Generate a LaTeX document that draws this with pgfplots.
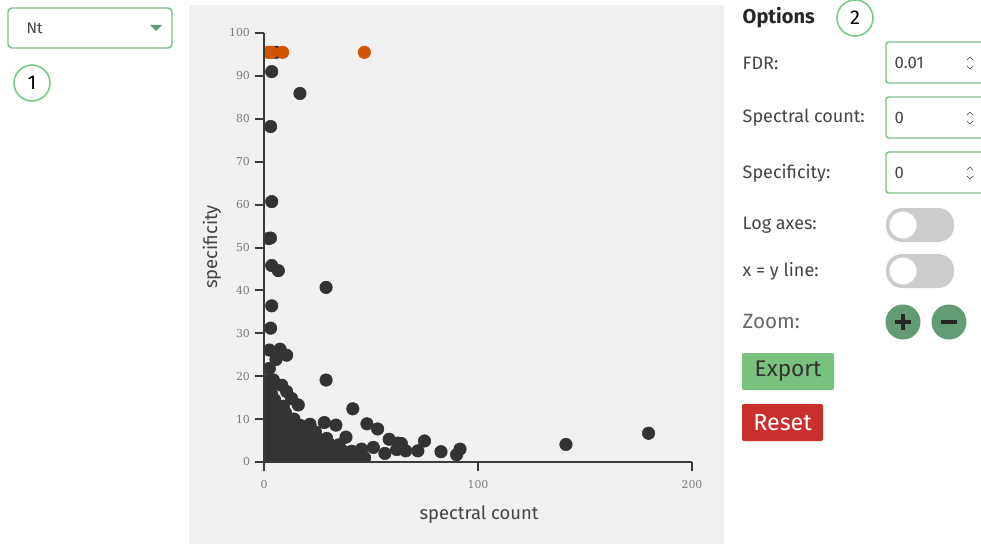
\documentclass[border=0pt]{standalone}
\usepackage{fontspec}
\setmainfont{Fira Sans}
\newfontfamily\tickfont{DejaVu Serif}
\usepackage{pgfplots}
\usepackage{pgfplotstable}
\pgfplotsset{compat=1.18}

\definecolor{panelbg}{HTML}{F1F1F1}
\definecolor{dotdark}{HTML}{333333}
\definecolor{dotorange}{HTML}{D35400}
\definecolor{axisdark}{HTML}{3A3A3A}
\definecolor{tickgray}{HTML}{7A7A7A}
\definecolor{uigreen}{HTML}{7CC98A}
\definecolor{boxgreen}{HTML}{7FBF88}
\definecolor{btngreen}{HTML}{79C17F}
\definecolor{zoomgreen}{HTML}{629B74}
\definecolor{btnred}{HTML}{C9302C}
\definecolor{togglegray}{HTML}{CCCCCC}
\definecolor{labeltext}{HTML}{444444}

% proteins: spectral count vs specificity
\pgfplotstableread{
x y
1 1
4 1
7 1
10 1
13 1
16 1
19 1
22 1
25 1
28 1
31 1
34 1
37 1
40 1
43 1
47 1
1 2.5
4 2.5
7 2.5
10 2.5
13 2.5
16 2.5
19 2.5
22 2.5
25 2.5
28 2.5
31 2.5
34 2.5
37 2.5
41 2.5
1 4
4 4
7 4
10 4
13 4
16 4
19 4
22 4
25 4
28 4
31 4
35 4
1 5.5
4 5.5
7 5.5
10 5.5
13 5.5
16 5.5
19 5.5
22 5.5
25 5.5
1 7
4 7
7 7
10 7
13 7
16 7
19 7
24 7
1 8.5
4 8.5
7 8.5
10 8.5
13 8.5
17 8.5
1 10
4 10
7 10
10 10
14 10
1 11.5
4 11.5
7 11.5
10 11.5
1 13
3 13
6 13
9 13
1 14.5
3 14.5
5 14.5
1 16
3.5 16
1 17.5
3 17.5
1.5 19
5.6 95.5
3.6 91.0
16.8 85.9
3.1 78.2
3.6 60.7
2.1 52.1
3.0 52.2
3.6 45.8
6.7 44.6
29.0 40.7
3.6 36.4
3.1 31.2
2.5 26.1
7.5 26.3
5.6 23.9
10.6 24.9
2.5 21.8
29.0 19.1
4.4 19.1
8.3 17.9
10.6 16.4
12.9 14.8
16.0 13.3
41.5 12.4
48.1 8.9
53.1 7.7
58.5 5.3
64.2 4.3
62.6 4.4
75.0 4.9
82.7 2.4
71.9 2.6
91.6 3.0
90.0 1.7
56.5 2.0
66.2 2.6
62.0 2.9
51.1 3.4
45.6 3.0
38.3 5.8
33.6 8.6
28.2 9.2
21.5 8.8
29.3 5.5
141.1 4.1
179.7 6.7
}\darkpts

\pgfplotstableread{
x y
2.0 95.5
3.6 95.5
8.7 95.5
46.9 95.5
}\orangepts

\begin{document}
\begin{tikzpicture}[x=0.75pt, y=0.75pt]
\path[use as bounding box] (0,0) rectangle (981,544);
\fill[white] (0,0) rectangle (981,544);

% left: selector and marker 1
\draw[boxgreen, line width=1.1pt, rounded corners=3pt] (8,536) rectangle (172,496);
\node[anchor=west, font=\fontsize{11.5}{13}\selectfont, text=labeltext] at (22,516) {Nt};
\fill[zoomgreen] (150,519) -- (162,519) -- (156,513) -- cycle;
\draw[uigreen, line width=1.2pt] (32,461) circle (18);
\node[font=\fontsize{15}{17}\selectfont] at (32,461) {1};

% plot panel
\fill[panelbg] (189,0) rectangle (724,539);

\begin{axis}[
  at={(198pt,61.5pt)}, anchor=south west,
  scale only axis,
  width=321pt, height=321.75pt,
  xmin=0, xmax=200, ymin=0, ymax=100,
  axis x line=bottom, axis y line=left,
  axis line style={-, draw=axisdark, line width=1.5pt},
  axis on top,
  xtick={0,100,200},
  ytick={0,10,...,100},
  tick align=outside,
  major tick length=7pt,
  tick style={draw=axisdark, line width=1.5pt},
  xticklabel style={yshift=-3pt},
  ticklabel style={font=\tickfont\fontsize{8.2}{9}\selectfont, text=tickgray},
  /pgf/number format/assume math mode=true,
  clip marker paths=true,
]
\addplot[only marks, mark=*, mark size=4.7pt, draw=dotdark, fill=dotdark] table[x=x, y=y] {\darkpts};
\addplot[only marks, mark=*, mark size=4.7pt, draw=dotorange, fill=dotorange] table[x=x, y=y] {\orangepts};
\end{axis}

\node[rotate=90, font=\fontsize{13.8}{15}\selectfont, text=labeltext] at (212,297) {specificity};
\node[font=\fontsize{13.8}{15}\selectfont, text=labeltext] at (479,29) {spectral count};

% options panel
\node[anchor=west, font=\fontsize{15}{17}\selectfont\bfseries, text=black!85] at (738,526) {Options};
\draw[uigreen, line width=1.2pt] (855,526) circle (18);
\node[font=\fontsize{15}{17}\selectfont] at (855,526) {2};

\node[anchor=west, font=\fontsize{13.5}{15}\selectfont, text=labeltext] at (738,481) {FDR:};
\draw[boxgreen, line width=1.1pt, rounded corners=2pt] (886,502) rectangle (1000,461);
\node[anchor=west, font=\fontsize{12.5}{14}\selectfont, text=labeltext] at (890,481) {0.01};
\node[anchor=west, font=\fontsize{13.5}{15}\selectfont, text=labeltext] at (738,426) {Spectral count:};
\draw[boxgreen, line width=1.1pt, rounded corners=2pt] (886,447) rectangle (1000,406);
\node[anchor=west, font=\fontsize{12.5}{14}\selectfont, text=labeltext] at (890,426) {0};
\node[anchor=west, font=\fontsize{13.5}{15}\selectfont, text=labeltext] at (738,371) {Specificity:};
\draw[boxgreen, line width=1.1pt, rounded corners=2pt] (886,392) rectangle (1000,351);
\node[anchor=west, font=\fontsize{12.5}{14}\selectfont, text=labeltext] at (890,371) {0};
\foreach \yy in {481,426,371} {
  \draw[labeltext, line width=0.5pt] (967,\yy+3) -- (970,\yy+6) -- (973,\yy+3);
  \draw[labeltext, line width=0.5pt] (967,\yy-3) -- (970,\yy-6) -- (973,\yy-3);
}

\node[anchor=west, font=\fontsize{13.5}{15}\selectfont, text=labeltext] at (738,319) {Log axes:};
\fill[togglegray, rounded corners=12pt] (886,336) rectangle (954,302);
\fill[white] (903,319) circle (13.5);
\node[anchor=west, font=\fontsize{13.5}{15}\selectfont, text=labeltext] at (738,273) {x = y line:};
\fill[togglegray, rounded corners=12pt] (886,290) rectangle (954,256);
\fill[white] (903,273) circle (13.5);

\node[anchor=west, font=\fontsize{15.5}{17}\selectfont, text=black!60] at (738,222) {Zoom:};
\fill[zoomgreen] (903,222) circle (17.5);
\fill[zoomgreen] (949,222) circle (17.5);
\draw[black!85, line width=2.6pt] (895,222) -- (911,222) (903,214) -- (903,230);
\draw[black!85, line width=2.6pt] (941,222) -- (957,222);

\fill[btngreen, rounded corners=1.5pt] (742,191) rectangle (834,154);
\node[font=\fontsize{17}{19}\selectfont, text=black!80] at (788,172.5) {Export};
\fill[btnred, rounded corners=1.5pt] (742,140) rectangle (823,103);
\node[font=\fontsize{17.5}{19}\selectfont, text=white] at (782.5,121.5) {Reset};
\end{tikzpicture}
\end{document}
